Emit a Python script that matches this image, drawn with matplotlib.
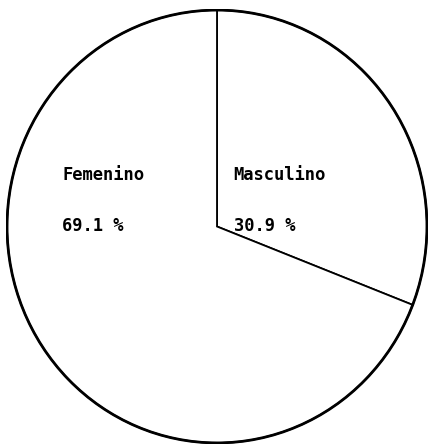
import matplotlib
matplotlib.use("Agg")
import matplotlib.pyplot as plt
from matplotlib.patches import Ellipse

labels = ["Masculino", "Femenino"]
values = [30.9, 69.1]
pct_labels = ["30.9 %", "69.1 %"]

fig = plt.figure(figsize=(4.29, 4.46), dpi=100)
ax = fig.add_axes([6/429, 2/446, 422/429, 435/446])
wedges, _ = ax.pie(values, startangle=90, counterclock=False, radius=1,
                   colors=["white", "white"],
                   wedgeprops=dict(edgecolor="black", linewidth=1.3))
ax.set_aspect("auto")
ax.set_xlim(-1.005, 1.005)
ax.set_ylim(-1.005, 1.005)
ax.add_patch(Ellipse((0, 0), 2, 2, fill=False, edgecolor="black", linewidth=2.0))
ax.axis("off")

font = dict(family="DejaVu Sans Mono", fontsize=12.3, color="black",
            va="center", ha="left", fontweight="semibold")
# text positions in axes fraction
ax.text((233-6)/422, 1 - (175-9)/435, labels[0], transform=ax.transAxes, **font)
ax.text((234-6)/422, 1 - (226-9)/435, pct_labels[0], transform=ax.transAxes, **font)
ax.text((62-6)/422, 1 - (175-9)/435, labels[1], transform=ax.transAxes, **font)
ax.text((62-6)/422, 1 - (226-9)/435, pct_labels[1], transform=ax.transAxes, **font)

fig.savefig("out.png", dpi=100, facecolor="white")
